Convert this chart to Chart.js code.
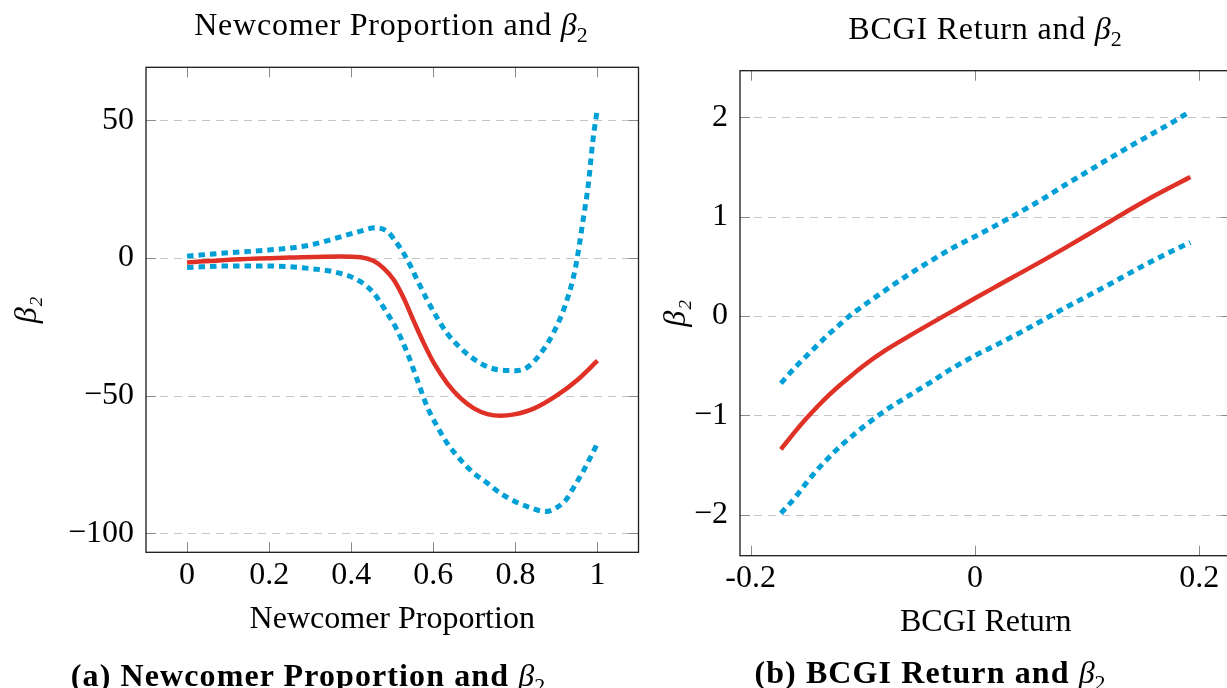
<!DOCTYPE html>
<html><head><meta charset="utf-8">
<script src="https://cdn.jsdelivr.net/npm/chart.js@4.4.1/dist/chart.umd.min.js"></script>
<style>
html,body{margin:0;padding:0;background:#fff;}
body{width:1227px;height:688px;overflow:hidden;position:relative;font-family:"Liberation Serif",serif;color:#000;}
canvas{position:absolute;top:0;}
.t{position:absolute;white-space:nowrap;font-size:32px;line-height:32px;text-align:center;letter-spacing:0.8px;}
.b{font-weight:bold;letter-spacing:1.1px;}
.g{font-style:italic;font-weight:normal;letter-spacing:0;}
.s{font-size:22px;font-weight:normal;position:relative;top:7px;letter-spacing:0;}
</style></head>
<body>
<canvas id="c1" width="640" height="688" style="left:0"></canvas>
<canvas id="c2" width="600" height="688" style="left:640px"></canvas>
<div class="t" style="left:91px;width:600px;top:8px">Newcomer Proportion and <span class="g">β</span><span class="s">2</span></div>
<div class="t" style="left:785px;width:400px;top:12px">BCGI Return and <span class="g">β</span><span class="s">2</span></div>
<div class="t b" style="left:8px;width:600px;top:659px">(a) Newcomer Proportion and <span class="g">β</span><span class="s">2</span></div>
<div class="t b" style="left:680px;width:500px;top:656px">(b) BCGI Return and <span class="g">β</span><span class="s">2</span></div>
<script>
// ---- Panel (a): Newcomer Proportion ----
const newcomerTicksX = [0, 0.2, 0.4, 0.6, 0.8, 1];
const newcomerTicksY = [-100, -50, 0, 50];
const newcomerEstX = [0, 0.13, 0.252, 0.374, 0.423, 0.455, 0.48, 0.504, 0.528, 0.553, 0.577, 0.602, 0.634, 0.667, 0.699, 0.732, 0.764, 0.797, 0.846, 0.902, 0.951, 1.0];
const newcomerEstY = [-1.6, -0.4, 0.2, 0.6, 0.3, -1.1, -3.8, -8.0, -14.6, -23.1, -31.0, -38.3, -45.5, -51.0, -54.6, -56.7, -57.3, -56.8, -54.6, -49.8, -44.3, -37.3];
const newcomerUpX = [0, 0.098, 0.199, 0.299, 0.374, 0.423, 0.459, 0.488, 0.512, 0.537, 0.561, 0.585, 0.61, 0.634, 0.667, 0.699, 0.732, 0.764, 0.8, 0.829, 0.862, 0.894, 0.923, 0.946, 0.965, 0.978, 0.989, 1.0];
const newcomerUpY = [0.7, 1.9, 2.9, 4.7, 7.7, 9.8, 11.0, 9.6, 5.3, -0.7, -8.0, -15.2, -21.9, -27.4, -32.8, -36.7, -39.5, -40.7, -40.9, -39.7, -34.6, -26.8, -16.5, -3.8, 13.8, 27.1, 42.9, 54.4];
const newcomerLoX = [0, 0.098, 0.199, 0.299, 0.374, 0.423, 0.455, 0.488, 0.512, 0.537, 0.561, 0.585, 0.61, 0.634, 0.667, 0.699, 0.732, 0.764, 0.8, 0.829, 0.874, 0.898, 0.923, 0.943, 0.967, 0.988, 1.0];
const newcomerLoY = [-3.4, -2.9, -2.9, -3.8, -5.6, -8.6, -12.8, -20.1, -26.2, -34.6, -44.3, -54.0, -61.3, -67.3, -73.4, -78.2, -81.8, -85.5, -88.5, -90.3, -92.1, -90.9, -87.9, -83.1, -77.0, -70.9, -67.3];

// ---- Panel (b): BCGI Return ----
const bcgiTicksX = [-0.2, 0, 0.2];
const bcgiTicksY = [-2, -1, 0, 1, 2];
const bcgiX = [-0.173, -0.16, -0.15, -0.14, -0.13, -0.12, -0.11, -0.10, -0.08, -0.06, -0.04, -0.02, 0, 0.02, 0.04, 0.06, 0.08, 0.10, 0.12, 0.14, 0.16, 0.18, 0.192];
const bcgiEst = [-1.342, -1.159, -1.028, -0.906, -0.794, -0.692, -0.598, -0.506, -0.347, -0.210, -0.079, 0.049, 0.178, 0.304, 0.429, 0.555, 0.683, 0.815, 0.949, 1.082, 1.21, 1.329, 1.398];
const bcgiUpper = [-0.678, -0.513, -0.40, -0.288, -0.179, -0.08, 0.017, 0.10, 0.258, 0.411, 0.551, 0.685, 0.80, 0.92, 1.045, 1.175, 1.316, 1.452, 1.587, 1.719, 1.847, 1.976, 2.06];
const bcgiLower = [-1.986, -1.823, -1.675, -1.541, -1.421, -1.31, -1.213, -1.12, -0.952, -0.809, -0.67, -0.525, -0.399, -0.286, -0.168, -0.045, 0.08, 0.199, 0.32, 0.444, 0.565, 0.677, 0.74];

const RED = 'rgb(224,49,38)';
const BLUE = 'rgb(0,160,214)';
const FONT = '"Liberation Serif", serif';

const zip = (xs, ys) => xs.map((x, i) => ({x: x, y: ys[i]}));
const minus = v => (v < 0 ? '\u2212' + String(Math.abs(v)) : String(v));

const framePlugin = {
  id: 'frame',
  beforeDatasetsDraw(chart, args, opts) {
    const {ctx, chartArea: a} = chart;
    const y = chart.scales.y;
    ctx.save();
    ctx.strokeStyle = '#c4c4c4';
    ctx.lineWidth = 1;
    ctx.setLineDash([8, 6]);
    opts.yTicks.forEach(v => {
      const py = Math.round(y.getPixelForValue(v)) + 0.5;
      ctx.beginPath(); ctx.moveTo(a.left, py); ctx.lineTo(a.right, py); ctx.stroke();
    });
    ctx.restore();
  },
  afterDatasetsDraw(chart, args, opts) {
    const {ctx, chartArea: a} = chart;
    const x = chart.scales.x, y = chart.scales.y;
    const L = 10;
    ctx.save();
    ctx.strokeStyle = '#8a8a8a';
    ctx.lineWidth = 1;
    opts.xTicks.forEach(v => {
      const px = Math.round(x.getPixelForValue(v)) + 0.5;
      ctx.beginPath();
      ctx.moveTo(px, a.bottom); ctx.lineTo(px, a.bottom - L);
      ctx.moveTo(px, a.top); ctx.lineTo(px, a.top + L);
      ctx.stroke();
    });
    opts.yTicks.forEach(v => {
      const py = Math.round(y.getPixelForValue(v)) + 0.5;
      ctx.beginPath();
      ctx.moveTo(a.left, py); ctx.lineTo(a.left + L, py);
      ctx.moveTo(a.right, py); ctx.lineTo(a.right - L, py);
      ctx.stroke();
    });
    ctx.strokeStyle = '#1a1a1a';
    ctx.lineWidth = 1.3;
    ctx.strokeRect(a.left, a.top, a.right - a.left, a.bottom - a.top);
    ctx.restore();
  }
};

function makeChart(id, c) {
  const lineBase = {showLine: true, pointRadius: 0, cubicInterpolationMode: 'monotone', fill: false, borderCapStyle: 'butt'};
  return new Chart(document.getElementById(id), {
    type: 'scatter',
    data: {datasets: [
      Object.assign({data: zip(c.estX, c.estY), borderColor: RED, borderWidth: 4.5}, lineBase),
      Object.assign({data: zip(c.upX, c.upY), borderColor: BLUE, borderWidth: 5, borderDash: [6.5, 5]}, lineBase),
      Object.assign({data: zip(c.loX, c.loY), borderColor: BLUE, borderWidth: 5, borderDash: [6.5, 5]}, lineBase)
    ]},
    options: {
      responsive: false, animation: false, devicePixelRatio: 1,
      layout: {padding: c.padding},
      plugins: {legend: {display: false}, tooltip: {enabled: false}, frame: {xTicks: c.xTicks, yTicks: c.yTicks}},
      scales: {
        x: {
          type: 'linear', min: c.xmin, max: c.xmax,
          afterFit: s => { s.height = 100; },
          afterBuildTicks: s => { s.ticks = c.xTicks.map(v => ({value: v})); },
          grid: {display: false, drawTicks: false}, border: {display: false},
          ticks: {padding: 4, color: '#000', autoSkip: false, maxRotation: 0, font: {family: FONT, size: 32}, callback: v => c.xFmt(v)},
          title: {display: true, text: c.xTitle, color: '#000', font: {family: FONT, size: 32}, padding: {top: 0, bottom: 14}}
        },
        y: {
          type: 'linear', min: c.ymin, max: c.ymax,
          afterFit: s => { s.width = c.yWidth; },
          afterBuildTicks: s => { s.ticks = c.yTicks.map(v => ({value: v})); },
          grid: {display: false, drawTicks: false}, border: {display: false},
          ticks: {padding: 12, color: '#000', autoSkip: false, font: {family: FONT, size: 32}, callback: v => minus(v)},
          title: {display: true, text: '\u03B2\u2082', color: '#000', font: {family: FONT, size: 32, style: 'italic'}, padding: {top: c.yTitlePad, bottom: 0}}
        }
      }
    },
    plugins: [framePlugin]
  });
}

makeChart('c1', {
  estX: newcomerEstX, estY: newcomerEstY, upX: newcomerUpX, upY: newcomerUpY, loX: newcomerLoX, loY: newcomerLoY,
  xTicks: newcomerTicksX, yTicks: newcomerTicksY,
  xmin: -0.1, xmax: 1.1, ymin: -106.9, ymax: 69.3,
  padding: {left: 0, top: 67.3, right: 1.5, bottom: 35.7},
  yWidth: 146, yTitlePad: 8,
  xTitle: 'Newcomer Proportion', xFmt: v => String(v)
});

makeChart('c2', {
  estX: bcgiX, estY: bcgiEst, upX: bcgiX, upY: bcgiUpper, loX: bcgiX, loY: bcgiLower,
  xTicks: bcgiTicksX, yTicks: bcgiTicksY,
  xmin: -0.2095, xmax: 0.2287, ymin: -2.413, ymax: 2.469,
  padding: {left: 0, top: 70.7, right: 8.5, bottom: 32.3},
  yWidth: 100, yTitlePad: 17,
  xTitle: 'BCGI Return', xFmt: v => String(v)
});
</script>
</body></html>
